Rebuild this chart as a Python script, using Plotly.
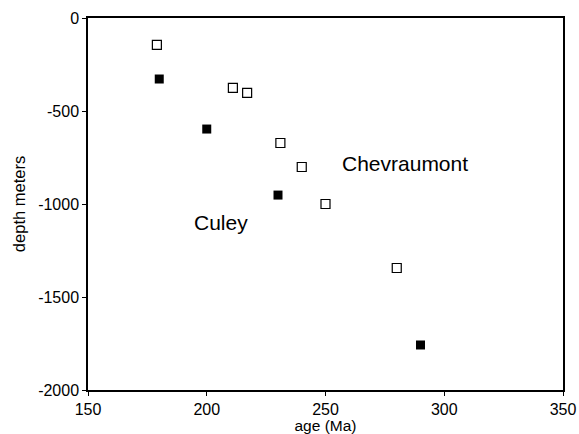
import plotly.graph_objects as go

chev_age = [179, 211, 217, 231, 240, 250, 280]
chev_depth = [-145, -376, -403, -672, -801, -1000, -1344]
culey_age = [180, 200, 230, 290]
culey_depth = [-328, -597, -952, -1758]

x_ticks = [150, 200, 250, 300, 350]
y_ticks = [0, -500, -1000, -1500, -2000]

font = "Liberation Sans, Arial, sans-serif"

fig = go.Figure()
fig.add_trace(go.Scatter(x=chev_age, y=chev_depth, mode="markers",
                         marker=dict(symbol="square-open", size=9, color="black", line=dict(width=1.2)),
                         name="Chevraumont", showlegend=False))
fig.add_trace(go.Scatter(x=culey_age, y=culey_depth, mode="markers",
                         marker=dict(symbol="square", size=9, color="black"),
                         name="Culey", showlegend=False))

fig.add_annotation(x=206, y=-1097, text="Culey", showarrow=False,
                   font=dict(family=font, size=21, color="black"))
fig.add_annotation(x=283.5, y=-780, text="Chevraumont", showarrow=False,
                   font=dict(family=font, size=21, color="black"))

axis_common = dict(showgrid=False, zeroline=False, showline=True, linecolor="black",
                   linewidth=1.5, mirror=True, ticks="outside", ticklen=4, automargin=False,
                   tickcolor="black", tickfont=dict(family=font, size=16, color="black"))

fig.update_xaxes(range=[150, 350], tickvals=x_ticks, ticktext=[str(v) for v in x_ticks],
                 title=dict(text="age (Ma)", font=dict(family=font, size=15.5, color="black"), standoff=0),
                 **axis_common)
fig.update_yaxes(range=[-2000, 0], tickvals=y_ticks, ticktext=[str(v) for v in y_ticks],
                 title=dict(text="depth meters", font=dict(family=font, size=16.5, color="black"), standoff=8),
                 **axis_common)

fig.update_layout(width=579, height=434, margin=dict(l=88, r=16, t=18, b=44, pad=0),
                  plot_bgcolor="white", paper_bgcolor="white")

fig.write_html("out.html")
